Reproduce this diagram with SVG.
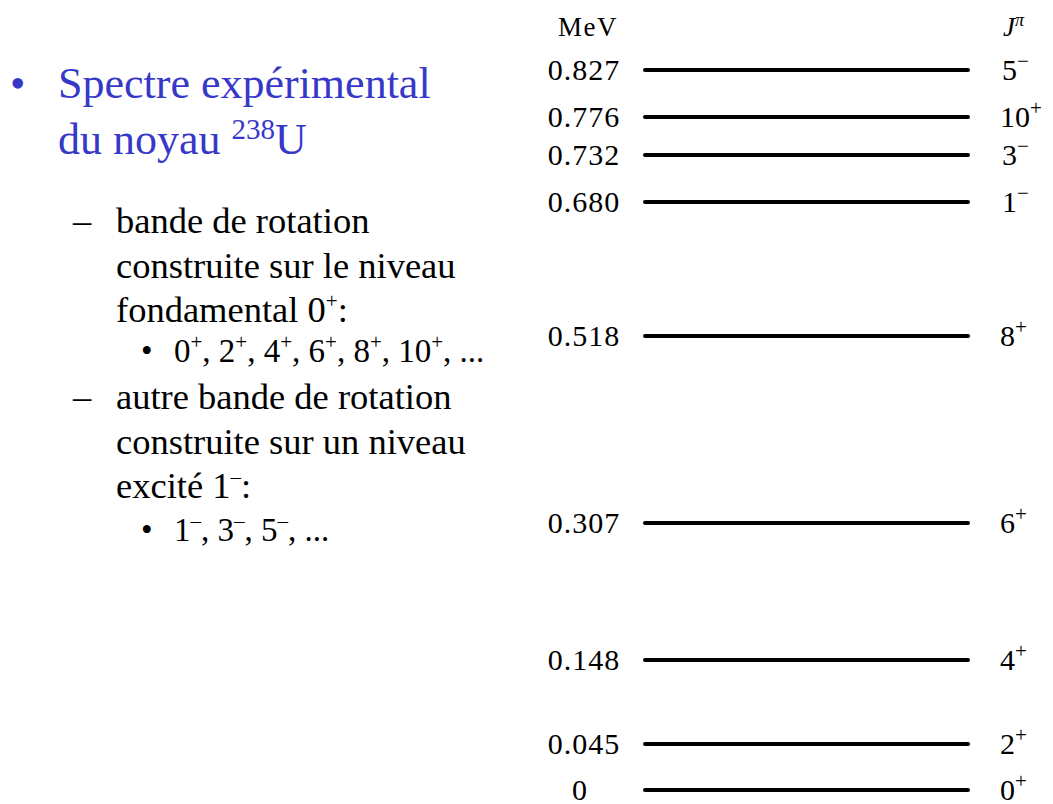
<svg xmlns="http://www.w3.org/2000/svg" width="1053" height="804" viewBox="0 0 1053 804">
<style>
text{font-family:"Liberation Serif","Times New Roman",serif;fill:#000}
.t{font-size:44px;fill:#3838c8}
.s{font-size:36.5px}
.s2{font-size:33px}
.sup{font-size:21px}
.v{font-size:30px;text-anchor:middle;letter-spacing:1px}
.j{font-size:30px}
.js{font-size:21px}
.lv{stroke:#000;stroke-width:4;stroke-linecap:round}
</style>
<rect width="1053" height="804" fill="#fff"/>
<g id="text-panel">
<text class="t" x="10" y="98">•</text>
<text class="t" x="58" y="98">Spectre expérimental</text>
<text class="t" x="58" y="154">du noyau <tspan style="font-size:29px" dy="-15">238</tspan><tspan dy="15">U</tspan></text>
<text class="s" x="73" y="233">–</text>
<text class="s" x="116" y="233">bande de rotation</text>
<text class="s" x="116" y="278">construite sur le niveau</text>
<text class="s" x="116" y="322">fondamental 0<tspan class="sup" dy="-14">+</tspan><tspan dy="14">:</tspan></text>
<text class="s2" x="141" y="362">•</text>
<text class="s2" x="174" y="362">0<tspan class="sup" dy="-13">+</tspan><tspan dy="13">, 2</tspan><tspan class="sup" dy="-13">+</tspan><tspan dy="13">, 4</tspan><tspan class="sup" dy="-13">+</tspan><tspan dy="13">, 6</tspan><tspan class="sup" dy="-13">+</tspan><tspan dy="13">, 8</tspan><tspan class="sup" dy="-13">+</tspan><tspan dy="13">, 10</tspan><tspan class="sup" dy="-13">+</tspan><tspan dy="13">, ...</tspan></text>
<text class="s" x="73" y="409">–</text>
<text class="s" x="116" y="409">autre bande de rotation</text>
<text class="s" x="116" y="454">construite sur un niveau</text>
<text class="s" x="116" y="498">excité 1<tspan class="sup" dy="-14">–</tspan><tspan dy="14">:</tspan></text>
<text class="s2" x="141" y="541">•</text>
<text class="s2" x="174" y="541">1<tspan class="sup" dy="-13">–</tspan><tspan dy="13">, 3</tspan><tspan class="sup" dy="-13">–</tspan><tspan dy="13">, 5</tspan><tspan class="sup" dy="-13">–</tspan><tspan dy="13">, ...</tspan></text>
</g>
<g id="headers">
<text x="588" y="36" style="font-size:27px;text-anchor:middle;letter-spacing:1.5px">MeV</text>
<text x="1003" y="36" style="font-size:27px;font-style:italic">J<tspan dy="-10" style="font-size:18px">π</tspan></text>
</g>
<g id="connectors">
<line class="lv" x1="645" y1="70" x2="968" y2="70"/>
<line class="lv" x1="645" y1="117" x2="968" y2="117"/>
<line class="lv" x1="645" y1="155" x2="968" y2="155"/>
<line class="lv" x1="645" y1="202" x2="968" y2="202"/>
<line class="lv" x1="645" y1="336" x2="968" y2="336"/>
<line class="lv" x1="645" y1="523" x2="968" y2="523"/>
<line class="lv" x1="645" y1="660" x2="968" y2="660"/>
<line class="lv" x1="645" y1="744" x2="968" y2="744"/>
<line class="lv" x1="645" y1="790" x2="968" y2="790"/>
</g>
<g id="level-0827"><text class="v" x="584" y="80">0.827</text><text class="j" x="1002" y="80">5<tspan class="js" dy="-12">−</tspan></text></g>
<g id="level-0776"><text class="v" x="584" y="127">0.776</text><text class="j" x="1000" y="127">10<tspan class="js" dy="-12">+</tspan></text></g>
<g id="level-0732"><text class="v" x="584" y="165">0.732</text><text class="j" x="1002" y="165">3<tspan class="js" dy="-12">−</tspan></text></g>
<g id="level-0680"><text class="v" x="584" y="212">0.680</text><text class="j" x="1002" y="212">1<tspan class="js" dy="-12">−</tspan></text></g>
<g id="level-0518"><text class="v" x="584" y="346">0.518</text><text class="j" x="1000" y="346">8<tspan class="js" dy="-12">+</tspan></text></g>
<g id="level-0307"><text class="v" x="584" y="533">0.307</text><text class="j" x="1000" y="533">6<tspan class="js" dy="-12">+</tspan></text></g>
<g id="level-0148"><text class="v" x="584" y="670">0.148</text><text class="j" x="1000" y="670">4<tspan class="js" dy="-12">+</tspan></text></g>
<g id="level-0045"><text class="v" x="584" y="754">0.045</text><text class="j" x="1000" y="754">2<tspan class="js" dy="-12">+</tspan></text></g>
<g id="level-0"><text class="v" x="580" y="800">0</text><text class="j" x="1000" y="800">0<tspan class="js" dy="-12">+</tspan></text></g>
</svg>
